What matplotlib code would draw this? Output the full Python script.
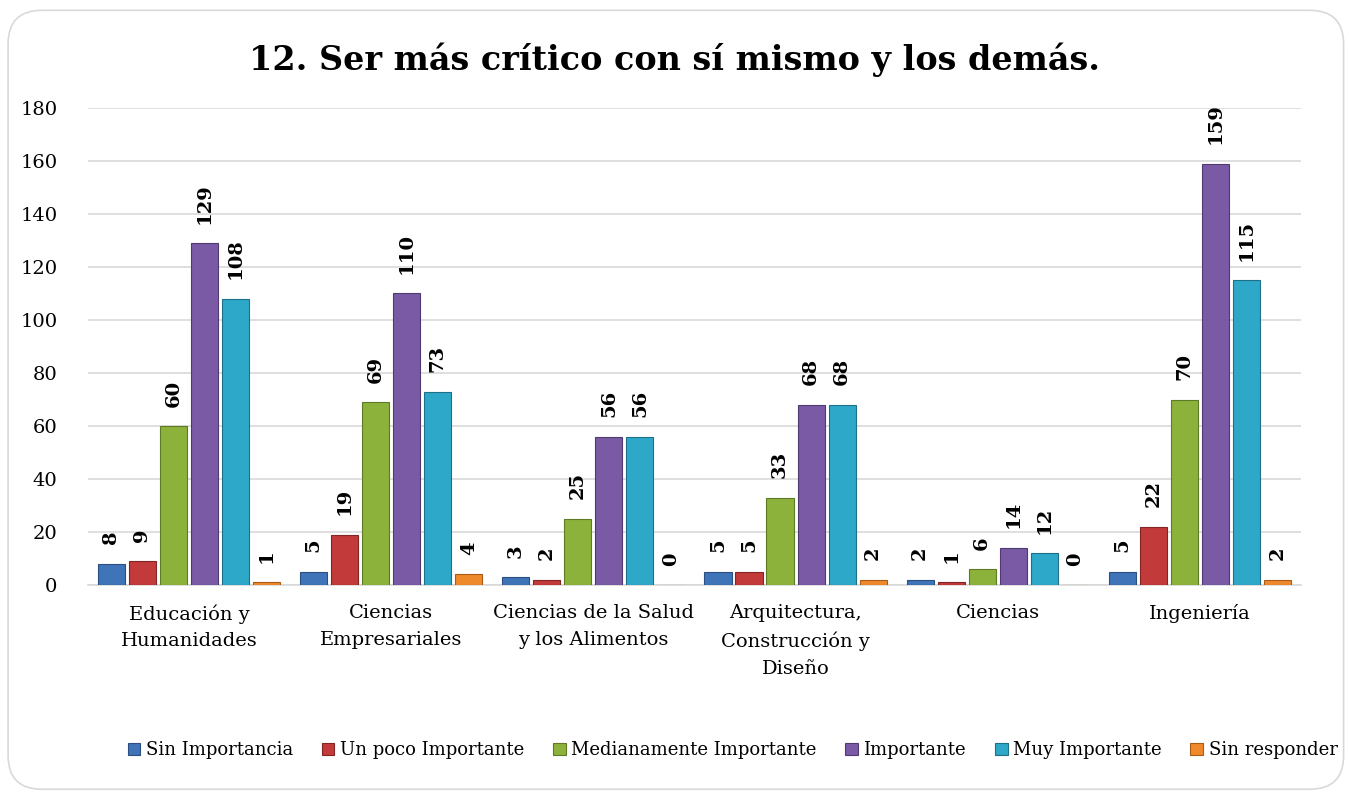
import numpy as np
import matplotlib.pyplot as plt
from matplotlib.patches import FancyBboxPatch

# categorías y series
categorias = ["Educación y\nHumanidades", "Ciencias\nEmpresariales",
              "Ciencias de la Salud\ny los Alimentos",
              "Arquitectura,\nConstrucción y\nDiseño", "Ciencias", "Ingeniería"]
series = ["Sin Importancia", "Un poco Importante", "Medianamente Importante",
          "Importante", "Muy Importante", "Sin responder"]
sin_importancia = [8, 5, 3, 5, 2, 5]
poco_importante = [9, 19, 2, 5, 1, 22]
medianamente = [60, 69, 25, 33, 6, 70]
importante = [129, 110, 56, 68, 14, 159]
muy_importante = [108, 73, 56, 68, 12, 115]
sin_responder = [1, 4, 0, 2, 0, 2]
valores = [sin_importancia, poco_importante, medianamente,
           importante, muy_importante, sin_responder]
colores = ["#3F74B8", "#C23A3A", "#8DB23C", "#7A5AA5", "#2EA8C8", "#EF8A2C"]
bordes = ["#2A4F80", "#832525", "#5E7A25", "#4F3A70", "#1E7089", "#A85C18"]

plt.rcParams["font.family"] = ["DejaVu Serif"]

fig = plt.figure(figsize=(13.49, 7.94), dpi=100)
ax = fig.add_axes([0.0652, 0.2632, 0.8992, 0.6008])

# marco redondeado
fig.patches.append(FancyBboxPatch((0.006, 0.006), 0.99, 0.981,
                                  boxstyle="round,pad=0,rounding_size=0.025",
                                  transform=fig.transFigure, fill=False,
                                  edgecolor="#D9D9D9", linewidth=1.2,
                                  mutation_aspect=1.7))

x = np.arange(len(categorias))
paso = 0.1535
ancho = 0.134
for i, (nombre, vals) in enumerate(zip(series, valores)):
    pos = x + (i - 2.5) * paso
    ax.bar(pos, vals, ancho, color=colores[i], edgecolor=bordes[i],
           linewidth=0.8, label=nombre, zorder=3)
    for px, v in zip(pos, vals):
        ax.annotate(str(v), (px, v), xytext=(0, 14), textcoords="offset points",
                    rotation=90, ha="center", va="bottom",
                    fontsize=14, fontweight="bold", zorder=4)

ax.set_xlim(-0.5, len(categorias) - 0.5)
ax.set_ylim(0, 180)
ax.set_yticks(range(0, 181, 20))
ax.set_xticks(x)
ax.set_xticklabels(categorias, fontsize=14, linespacing=1.6)
ax.tick_params(axis="both", length=0, labelsize=14)
ax.tick_params(axis="y", pad=22)
ax.tick_params(axis="x", pad=14)
ax.grid(axis="y", color="#D9D9D9", linewidth=1.2, zorder=0)
for s in ["top", "right", "left"]:
    ax.spines[s].set_visible(False)
ax.spines["bottom"].set_color("#D9D9D9")
ax.spines["bottom"].set_linewidth(1.2)

fig.text(0.5, 0.925, "12. Ser más crítico con sí mismo y los demás.",
         ha="center", va="center", fontsize=24, fontweight="bold")

fig.legend(loc="center", bbox_to_anchor=(0.543, 0.055), ncol=6, frameon=False,
           fontsize=13, handlelength=0.7, handleheight=0.7, handletextpad=0.3,
           columnspacing=1.6)

fig.savefig("out.png", dpi=100)
